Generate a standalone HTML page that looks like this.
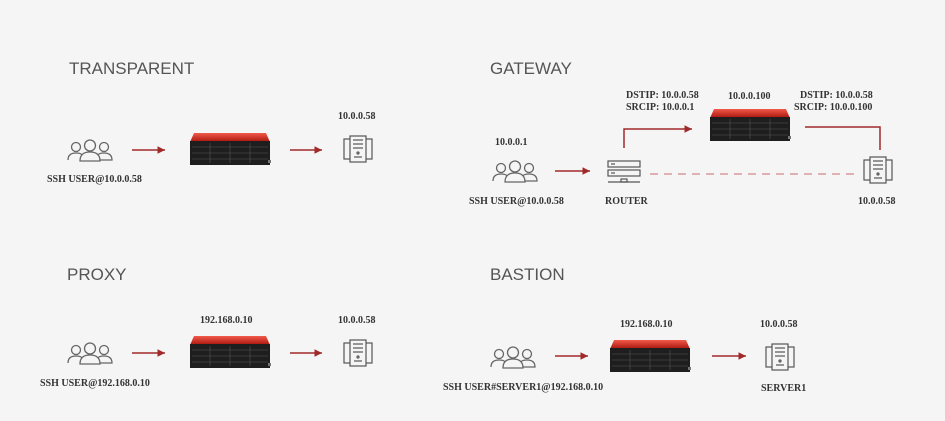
<!DOCTYPE html>
<html><head><meta charset="utf-8"><style>
html,body{margin:0;padding:0;background:#f6f5f5;}
svg{display:block}
.t{font-family:"Liberation Sans",sans-serif;font-size:17px;fill:#555;}
.l{font-family:"Liberation Serif",serif;font-weight:bold;font-size:10px;fill:#333;}
</style></head><body>
<svg width="945" height="421" viewBox="0 0 945 421" xmlns="http://www.w3.org/2000/svg">
<defs>
<linearGradient id="rg" x1="0" y1="0" x2="0" y2="1"><stop offset="0" stop-color="#f25a4a"/><stop offset="1" stop-color="#a8140c"/></linearGradient>
<marker id="ah" markerWidth="6" markerHeight="6" refX="5" refY="3" orient="auto"><path d="M0,0.5 L5,3 L0,5.5 z" fill="#a02a2a"/></marker>
<g id="users" fill="none" stroke="#666" stroke-width="1.3">
<circle cx="9" cy="7" r="4.5"/><path d="M1,20 Q1,13 9,13 Q14,13 15,15"/>
<circle cx="23" cy="5.5" r="5.5"/><path d="M13,21 Q13,12 23,12 Q33,12 33,21 Z"/>
<circle cx="37" cy="7" r="4.5"/><path d="M31,15 Q32,13 37,13 Q45,13 45,20 L33,20"/>
</g>
<g id="appl">
<path d="M4,0 L76,0 L80,9 L0,9 Z" fill="url(#rg)"/>
<rect x="0" y="8" width="80" height="24" fill="#1e1e1e"/>
<g stroke="#555" stroke-width="0.6">
<line x1="2" y1="14" x2="78" y2="14"/><line x1="2" y1="20" x2="78" y2="20"/><line x1="2" y1="26" x2="78" y2="26"/>
<line x1="20" y1="10" x2="20" y2="30"/><line x1="40" y1="10" x2="40" y2="30"/><line x1="60" y1="10" x2="60" y2="30"/>
</g>
<rect x="78" y="27" width="3" height="3" fill="#777"/>
</g>
<g id="srv" fill="none" stroke="#555" stroke-width="1.2">
<rect x="0" y="3" width="7" height="20"/><rect x="21" y="3" width="7" height="20"/>
<rect x="6" y="0" width="16" height="26" fill="#f6f5f5"/>
<line x1="9" y1="4" x2="19" y2="4"/><line x1="9" y1="8" x2="19" y2="8"/><line x1="9" y1="12" x2="19" y2="12"/>
<line x1="10" y1="21" x2="18" y2="21"/><circle cx="14" cy="17" r="1"/>
</g>
<g id="rtr" fill="none" stroke="#555" stroke-width="1.2">
<rect x="0" y="0" width="32" height="6"/><rect x="0" y="9" width="32" height="6"/>
<line x1="0" y1="21" x2="32" y2="21"/><rect x="13" y="18" width="6" height="3"/>
<line x1="3" y1="3" x2="7" y2="3"/><line x1="3" y1="12" x2="7" y2="12"/>
</g>
</defs>

<!-- TRANSPARENT -->
<text class="t" x="69" y="74">TRANSPARENT</text>
<use href="#users" x="67" y="140"/>
<text class="l" x="47" y="182">SSH USER@10.0.0.58</text>
<line x1="132" y1="150" x2="165" y2="150" stroke="#a02a2a" stroke-width="1.5" marker-end="url(#ah)"/>
<use href="#appl" x="190" y="133"/>
<line x1="290" y1="150" x2="322" y2="150" stroke="#a02a2a" stroke-width="1.5" marker-end="url(#ah)"/>
<use href="#srv" x="344" y="136"/>
<text class="l" x="338" y="119">10.0.0.58</text>

<!-- GATEWAY -->
<text class="t" x="490" y="74">GATEWAY</text>
<text class="l" x="495" y="145">10.0.0.1</text>
<use href="#users" x="492" y="161"/>
<text class="l" x="469" y="204">SSH USER@10.0.0.58</text>
<line x1="555" y1="171" x2="590" y2="171" stroke="#a02a2a" stroke-width="1.5" marker-end="url(#ah)"/>
<use href="#rtr" x="608" y="161"/>
<text class="l" x="605" y="204">ROUTER</text>
<line x1="650" y1="174" x2="855" y2="174" stroke="#d08a8a" stroke-width="1.3" stroke-dasharray="8,6"/>
<use href="#srv" x="864" y="157"/>
<text class="l" x="858" y="204">10.0.0.58</text>
<polyline points="624,148 624,129 692,129" fill="none" stroke="#a02a2a" stroke-width="1.5" marker-end="url(#ah)"/>
<text class="l" x="626" y="98">DSTIP: 10.0.0.58</text>
<text class="l" x="626" y="110">SRCIP: 10.0.0.1</text>
<text class="l" x="728" y="99">10.0.0.100</text>
<use href="#appl" x="710" y="109"/>
<polyline points="805,127 880,127 880,150" fill="none" stroke="#a02a2a" stroke-width="1.5"/>
<text class="l" x="800" y="98">DSTIP: 10.0.0.58</text>
<text class="l" x="794" y="110">SRCIP: 10.0.0.100</text>

<!-- PROXY -->
<text class="t" x="67" y="280">PROXY</text>
<use href="#users" x="67" y="343"/>
<text class="l" x="40" y="386">SSH USER@192.168.0.10</text>
<line x1="132" y1="353" x2="165" y2="353" stroke="#a02a2a" stroke-width="1.5" marker-end="url(#ah)"/>
<text class="l" x="200" y="323">192.168.0.10</text>
<use href="#appl" x="190" y="336"/>
<line x1="290" y1="353" x2="322" y2="353" stroke="#a02a2a" stroke-width="1.5" marker-end="url(#ah)"/>
<use href="#srv" x="344" y="340"/>
<text class="l" x="338" y="323">10.0.0.58</text>

<!-- BASTION -->
<text class="t" x="490" y="280">BASTION</text>
<use href="#users" x="490" y="347"/>
<text class="l" x="443" y="390">SSH USER#SERVER1@192.168.0.10</text>
<line x1="555" y1="356" x2="588" y2="356" stroke="#a02a2a" stroke-width="1.5" marker-end="url(#ah)"/>
<text class="l" x="620" y="327">192.168.0.10</text>
<use href="#appl" x="610" y="340"/>
<line x1="712" y1="356" x2="746" y2="356" stroke="#a02a2a" stroke-width="1.5" marker-end="url(#ah)"/>
<use href="#srv" x="766" y="344"/>
<text class="l" x="760" y="327">10.0.0.58</text>
<text class="l" x="761" y="391">SERVER1</text>
</svg>
</body></html>
